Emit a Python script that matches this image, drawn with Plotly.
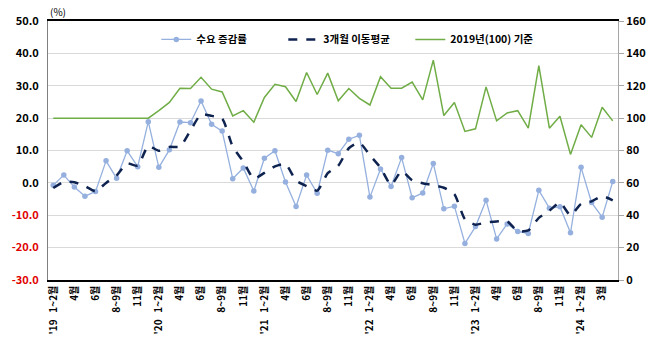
import plotly.graph_objects as go

# ---- data ----
months = ["1~2월", "3월", "4월", "5월", "6월", "7월", "8~9월", "10월", "11월", "12월"]
years = ["'19", "'20", "'21", "'22", "'23"]
periods = []
for y in years:
    for i, m in enumerate(months):
        periods.append(f"{y}\u00a0\u00a0\u00a0{m}" if i == 0 else m)
periods += ["'24\u00a0\u00a0\u00a01~2월", "2월", "3월", "4월"]

demand_change = [-0.7, 2.4, -1.3, -4.1, -2.7, 6.8, 1.4, 9.9, 5.0, 18.9,
                 4.8, 10.2, 18.8, 18.6, 25.3, 18.1, 16.0, 1.3, 4.6, -2.5,
                 7.6, 9.9, 0.3, -7.3, 2.4, -3.2, 10.1, 9.0, 13.5, 14.7,
                 -4.4, 4.3, -1.1, 7.8, -4.6, -3.1, 6.0, -8.0, -7.2, -18.7,
                 -13.5, -5.4, -17.3, -12.7, -15.0, -15.6, -2.3, -7.8, -7.4, -15.4,
                 4.8, -6.1, -10.6, 0.4]

moving_avg = [-1.6, 0.3, 0.2, -1.0, -2.6, 0.0, 2.3, 6.0, 5.3, 11.4,
              9.9, 11.1, 11.2, 16.2, 21.1, 20.7, 19.8, 11.2, 6.6, 1.3,
              3.1, 5.1, 5.8, 0.7, -1.0, -2.4, 3.0, 5.3, 10.7, 12.4,
              8.5, 4.7, -0.6, 3.6, 0.8, -0.1, -0.7, -1.5, -3.5, -11.2,
              -12.9, -12.2, -11.9, -11.9, -14.9, -14.7, -10.8, -8.6, -6.1, -10.0,
              -6.5, -5.7, -4.1, -5.4]

index_2019 = [100, 100, 100, 100, 100, 100, 100, 100, 100, 100,
              104.6, 109.7, 118.5, 118.3, 125.2, 117.9, 116.2, 101.4, 104.6, 97.5,
              112.8, 120.9, 119.4, 110.3, 128.2, 114.6, 127.8, 110.7, 118.3, 112.2,
              108.1, 125.6, 118.5, 118.5, 122.3, 111.3, 135.8, 101.6, 109.7, 91.8,
              93.4, 119.3, 98.3, 103.2, 104.6, 93.8, 132.5, 93.8, 101.2, 77.6,
              95.9, 88.1, 106.7, 98.3]

left_ticks = [50, 40, 30, 20, 10, 0, -10, -20, -30]
right_ticks = [0, 20, 40, 60, 80, 100, 120, 140, 160]

FONT = "Noto Sans CJK KR"
x = list(range(len(periods)))

fig = go.Figure()
fig.add_trace(go.Scatter(
    x=x, y=demand_change, name="수요 증감률", mode="lines+markers",
    line=dict(color="#95B0DE", width=1.3),
    marker=dict(color="#95B0DE", size=5.5)))
fig.add_trace(go.Scatter(
    x=x, y=moving_avg, name="3개월 이동평균", mode="lines",
    line=dict(color="#0F2350", width=2.5, dash="dash", shape="spline", smoothing=0.6)))
fig.add_trace(go.Scatter(
    x=x, y=index_2019, name="2019년(100) 기준", mode="lines", yaxis="y2",
    line=dict(color="#70AD47", width=1.5)))

left_text = []
for v in left_ticks:
    s = f"{v:.1f}"
    left_text.append(f'<span style="color:#E00000">{s}</span>' if v < 0 else s)

fig.update_layout(
    width=658, height=347,
    margin=dict(l=44, r=32, t=21, b=64),
    paper_bgcolor="white", plot_bgcolor="white",
    font=dict(family=FONT, size=11, color="#000000"),
    showlegend=True,
    legend=dict(orientation="h", x=0.19, y=0.985, xanchor="left", yanchor="top",
                bgcolor="rgba(0,0,0,0)", font=dict(size=10.5, family=FONT, weight=600),
                itemwidth=30, entrywidth=82, entrywidthmode="pixels",
                traceorder="normal"),
    xaxis=dict(
        range=[-0.5, len(periods) - 0.5],
        tickmode="array", tickvals=x[::2], ticktext=periods[::2],
        tickangle=-90, tickfont=dict(size=10, family=FONT, weight=600),
        showgrid=False, zeroline=False,
        showline=True, linecolor="#000000", linewidth=1.5, mirror=True,
        ticks="", fixedrange=True),
    yaxis=dict(
        range=[-30, 50], tickmode="array", tickvals=left_ticks, ticktext=left_text,
        tickfont=dict(size=11, family=FONT, weight=600),
        showgrid=True, gridcolor="#D9D9D9", gridwidth=1, zeroline=False,
        showline=True, linecolor="#808080", linewidth=1, ticks="", ticklabelstandoff=6),
    yaxis2=dict(
        range=[0, 160], tickmode="array", tickvals=right_ticks,
        overlaying="y", side="right",
        tickfont=dict(size=11, family=FONT, weight=600),
        showgrid=False, zeroline=False,
        showline=True, linecolor="#A6A6A6", linewidth=1,
        ticks="outside", ticklen=5, tickcolor="#A6A6A6"),
    annotations=[dict(text="(%)", xref="paper", yref="paper", x=0.0, y=1.0,
                      xanchor="left", yanchor="bottom", showarrow=False,
                      font=dict(size=10, family=FONT), yshift=0)],
)

fig.write_html("out.html")
